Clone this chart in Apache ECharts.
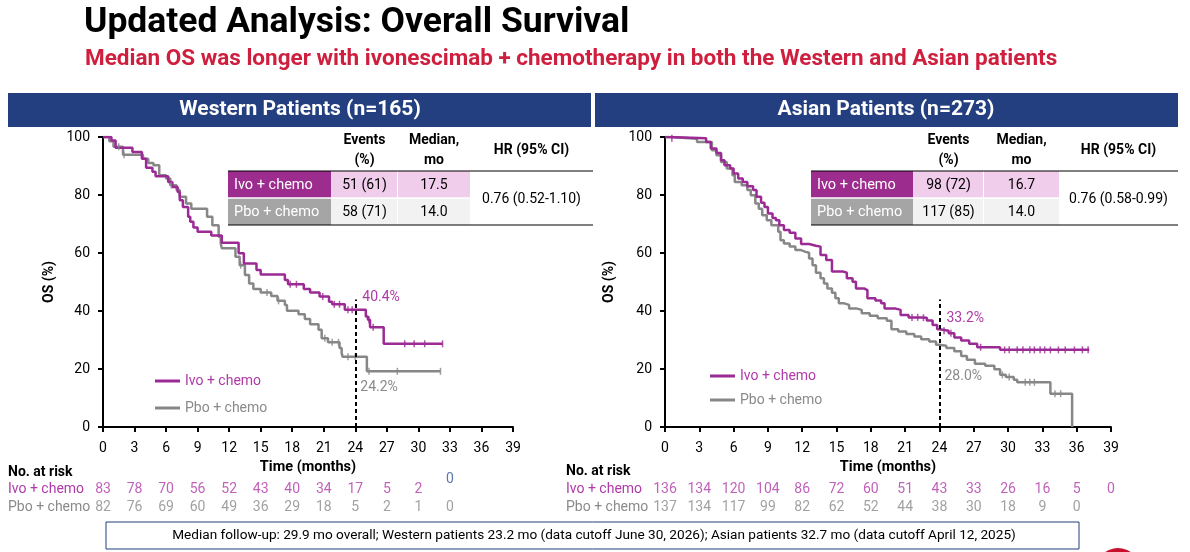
<!DOCTYPE html>
<html><head><meta charset="utf-8">
<script src="https://cdn.jsdelivr.net/npm/echarts@6/dist/echarts.min.js"></script>
<style>html,body{margin:0;padding:0;background:#fff}#c{width:1190px;height:552px}</style>
</head><body><div id="c"></div>
<script>
// ---------- DATA ----------
const riskMonths = [0,3,6,9,12,15,18,21,24,27,30,33,36,39];
const westRiskIvo = [83,78,70,56,52,43,40,34,17,5,2,0];
const westRiskPbo = [82,76,69,60,49,36,29,18,5,2,1,0];
const asianRiskIvo = [136,134,120,104,86,72,60,51,43,33,26,16,5,0];
const asianRiskPbo = [137,134,117,99,82,62,52,44,38,30,18,9,0];

// Kaplan-Meier steps: [month, OS% after the step]
const westIvoKM = [[0,100],[0.8,98.8],[1.2,96.3],[2.8,94.8],[3.7,92.5],[4.1,89.4],[4.7,88],[5.0,86.5],[6.2,84.5],[6.6,82.8],[7.1,81],[7.3,78.2],[7.6,75.9],[8.1,72.5],[8.3,70.8],[8.6,68.8],[9.0,67.3],[10.3,66],[11.3,63.5],[12.9,59.9],[13.4,56.4],[14.6,54.1],[15.0,52.6],[17.3,50.7],[17.6,49.2],[19.1,47.6],[19.7,46.4],[20.6,45],[21.5,43.2],[21.8,42.3],[23.0,40.4],[25.0,38.1],[25.2,37],[25.4,34.4],[26.7,28.7],[32.3,28.7]];
const westPboKM = [[0,100],[0.6,98.5],[1.0,96.6],[1.9,93.9],[3.8,92.5],[4.3,91],[4.8,90.3],[5.35,86.8],[6.0,85.7],[6.4,83.4],[7.0,81.7],[7.3,79.4],[7.9,77.1],[8.4,75.3],[9.9,72.5],[10.4,69.6],[11.0,65.6],[11.2,63.3],[11.3,61.6],[12.6,58.7],[13.0,55.8],[13.5,52.4],[13.9,49.5],[14.3,47.6],[15.0,46.4],[16.0,45.2],[16.6,43.5],[17.3,42.1],[17.5,40.1],[18.6,38.9],[19.2,37.2],[19.7,35.4],[20.5,33.5],[20.8,30.6],[21.4,29.2],[22.5,27.2],[22.7,25.5],[22.8,24.2],[25.1,19.2],[32.1,19.2]];
const asianIvoKM = [[0,100],[0.3,99.6],[3.6,98.3],[4.0,96],[4.5,94.5],[4.9,92],[5.2,90.3],[5.7,89.1],[6.0,87.4],[6.4,85.7],[6.8,84.5],[7.2,83],[7.7,81.7],[8.0,79.4],[8.4,77.3],[8.7,75.9],[9.0,73.6],[9.4,72.1],[9.7,71.3],[10.0,69.6],[10.4,67.9],[10.9,67],[11.4,65],[11.9,63.1],[12.6,62.5],[13.2,62.2],[13.6,59.3],[14.1,57.6],[14.6,53.6],[15.6,53.2],[15.9,51.3],[16.4,50.1],[16.7,47.8],[17.4,47.2],[17.7,44.4],[18.4,43.6],[18.9,42.7],[19.2,40.9],[20.1,40.4],[20.6,38.6],[21.3,37.8],[22.4,37.7],[22.9,36.7],[23.4,35.2],[23.8,33.7],[24.0,33.2],[24.8,32.3],[25.3,30.9],[25.9,29.8],[26.6,28.7],[27.3,27.5],[29.3,26.6],[37.1,26.6]];
const asianPboKM = [[0,100],[0.4,99.4],[2.8,98.3],[4.1,95.4],[4.5,93.7],[4.9,91.4],[5.4,89.1],[5.9,86.8],[6.1,84.5],[6.7,83.4],[7.2,81.7],[7.5,79.9],[7.9,77.1],[8.2,75.3],[8.5,73],[8.9,71.3],[9.3,69.6],[9.9,67.3],[10.1,64.4],[10.4,63.3],[10.9,62.2],[11.4,61],[11.9,60.4],[12.3,60.1],[12.6,58.1],[12.9,55.8],[13.2,53.2],[13.6,51.3],[13.9,49.5],[14.2,47.8],[14.6,46.3],[14.9,44.4],[15.2,42.7],[15.6,42.1],[16.1,40.9],[16.7,40.4],[17.2,39.2],[17.9,38.4],[18.6,37.5],[19.4,36.6],[19.8,33.7],[20.4,32.9],[21.1,32.1],[21.8,31.2],[22.4,30.3],[23.1,29.5],[23.7,28.4],[23.95,28.0],[24.6,27.2],[25.3,26.1],[25.9,24.5],[26.4,23.2],[27.1,21.8],[28.0,21.1],[28.8,19.9],[29.3,18],[29.8,17.2],[30.5,16.3],[30.8,15.4],[33.7,11.5],[35.6,0]];

// censor times (months)
const westIvoCens = [17.8,18.4,20.9,22.0,22.5,23.3,23.7,25.3,25.7,28.7,29.6,30.6,32.3];
const westPboCens = [1.5,2.0,6.5,13.1,15.6,16.7,21.1,21.8,22.4,23.3,24.0,25.3,28.0,32.1];
const asianIvoCens = [0.6,21.6,22.1,22.6,24.4,25.0,27.6,29.7,30.1,30.8,31.3,31.9,32.3,32.8,33.2,33.7,34.4,35.0,35.8,36.5,37.0];
const asianPboCens = [29.5,30.1,31.5,31.9,32.3,34.1,34.6];

const landmark = {month:24, west:{ivo:'40.4%', pbo:'24.2%'}, asian:{ivo:'33.2%', pbo:'28.0%'}};
const tableHeaders = ['Events\n(%)','Median,\nmo','HR (95% CI)'];
const westTable = {ivo:['51 (61)','17.5'], pbo:['58 (71)','14.0'], hr:'0.76 (0.52-1.10)'};
const asianTable = {ivo:['98 (72)','16.7'], pbo:['117 (85)','14.0'], hr:'0.76 (0.58-0.99)'};
const armNames = ['Ivo + chemo','Pbo + chemo'];

// ---------- STYLE ----------
const PURPLE = '#9c2a95', PURPLE_TXT = '#b03aa8', GRAY = '#878787', GRAY_TXT = '#8a8a8a';
const NAVY = '#233f7f';
const FONT = 'Roboto, "Liberation Sans", sans-serif';

function stepVal(km, t){ let v = km[0][1]; for (const p of km){ if (p[0] <= t) v = p[1]; else break; } return v; }
function cens(km, times){ return times.map(t => [t, stepVal(km, t)]); }

const xAxisBase = (gi) => ({
  gridIndex: gi, type:'value', min:0, max:39, interval:3,
  axisLine:{show:true, onZero:false, lineStyle:{color:'#000', width:2}},
  axisTick:{show:true, length:5, lineStyle:{color:'#000', width:2}},
  axisLabel:{color:'#000', fontSize:14, margin:14, fontFamily:FONT},
  splitLine:{show:false},
  name:'Time (months)', nameLocation:'middle', nameGap:30,
  nameTextStyle:{color:'#000', fontSize:14.5, fontWeight:'bold', fontFamily:FONT}
});
const yAxisBase = (gi, gap) => ({
  gridIndex: gi, type:'value', min:0, max:100, interval:20,
  axisLine:{show:true, lineStyle:{color:'#000', width:2}},
  axisTick:{show:true, length:5, lineStyle:{color:'#000', width:2}},
  axisLabel:{color:'#000', fontSize:14, margin:13, fontFamily:FONT},
  splitLine:{show:false},
  name:'OS (%)', nameLocation:'middle', nameGap:gap, nameRotate:90,
  nameTextStyle:{color:'#000', fontSize:14, fontWeight:'bold', fontFamily:FONT}
});
const hiddenX = (gi) => ({gridIndex:gi, type:'value', min:0, max:39, show:false});
const hiddenY = (gi) => ({gridIndex:gi, type:'category', data:['Pbo','Ivo'], show:false});

function kmLine(name, km, color, xi){
  return {name, type:'line', step:'end', data:km, xAxisIndex:xi, yAxisIndex:xi,
    symbol:'none', lineStyle:{color, width:2.5}, itemStyle:{color}, z:3, animation:false};
}
function censSeries(km, times, color, xi){
  return {name:'censor', type:'scatter', data:cens(km, times), xAxisIndex:xi, yAxisIndex:xi,
    symbol:'rect', symbolSize:[1.5,7], itemStyle:{color}, z:4, animation:false, silent:true};
}
function riskSeries(vals, row, color, xi, special){
  return {name:'risk', type:'scatter', xAxisIndex:xi, yAxisIndex:xi, symbolSize:0, silent:true, animation:false,
    data: vals.map((v,i)=>{
      const item = {value:[riskMonths[i], row, v]};
      if (special && special(i, v)) item.label = {color:'#2f5597', offset:[0,-10]};
      return item;
    }),
    label:{show:true, position:'inside', formatter:p=>p.value[2], color, fontSize:14, fontFamily:FONT}
  };
}
function landmarkSeries(xi, ivoTxt, pboTxt, ivoY, pboY){
  return {name:'landmark', type:'line', data:[], xAxisIndex:xi, yAxisIndex:xi, animation:false, silent:true,
    markLine:{symbol:'none', silent:true, label:{show:false},
      lineStyle:{color:'#000', type:[4,3], width:2},
      data:[[{coord:[landmark.month,0]},{coord:[landmark.month,44]}]]},
    markPoint:{symbolSize:0, silent:true, data:[
      {coord:[landmark.month, ivoY], label:{show:true, formatter:ivoTxt, position:'right', distance:7, color:PURPLE_TXT, fontSize:14, fontFamily:FONT}},
      {coord:[landmark.month, pboY], label:{show:true, formatter:pboTxt, position:'right', distance:5, color:GRAY_TXT, fontSize:14, fontFamily:FONT}}
    ]}
  };
}

// ---------- GRAPHIC ----------
const g = [];
function txt(x,y,text,opt){ g.push({type:'text', x, y, silent:true, style:Object.assign({text, fill:'#000', font:'13px '+FONT, textAlign:'left', textVerticalAlign:'middle'}, opt||{})}); }
function rect(x,y,w,h,fill,stroke){ g.push({type:'rect', silent:true, shape:{x,y,width:w,height:h}, style:{fill, stroke:stroke||null, lineWidth:stroke?1:0}}); }
function line(x1,y1,x2,y2,color,w){ g.push({type:'line', silent:true, shape:{x1,y1,x2,y2}, style:{stroke:color, lineWidth:w}}); }

txt(84, 23, 'Updated Analysis: Overall Survival', {font:'bold 35.5px '+FONT});
txt(85, 59, 'Median OS was longer with ivonescimab + chemotherapy in both the Western and Asian patients', {font:'bold 22.5px '+FONT, fill:'#cf1f3f'});

rect(8, 93, 583, 34, NAVY);
rect(595, 93, 583, 34, NAVY);
txt(300, 110, 'Western Patients (n=165)', {font:'bold 21px '+FONT, fill:'#fff', textAlign:'center'});
txt(886, 110, 'Asian Patients (n=273)', {font:'bold 21px '+FONT, fill:'#fff', textAlign:'center'});

function table(cx, t){
  const top=171, rh=27;
  rect(cx[0], top, cx[1]-cx[0], rh, '#9c2d8e');
  rect(cx[1], top, cx[2]-cx[1]-1, rh, '#f0cdeb');
  rect(cx[2], top, cx[3]-cx[2], rh, '#f0cdeb');
  rect(cx[0], top+rh, cx[1]-cx[0], rh, '#a5a5a5');
  rect(cx[1], top+rh, cx[2]-cx[1]-1, rh, '#f2f2f2');
  rect(cx[2], top+rh, cx[3]-cx[2], rh, '#f2f2f2');
  line(cx[0], top+rh, cx[3], top+rh, '#fff', 1.5);
  line(cx[0], top, cx[4], top, '#000', 1.2);
  line(cx[0], top+2*rh, cx[4], top+2*rh, '#000', 1.2);
  const m1=(cx[1]+cx[2])/2, m2=(cx[2]+cx[3])/2, m3=(cx[3]+cx[4])/2;
  txt(m1, 150, tableHeaders[0], {font:'bold 14px '+FONT, textAlign:'center', lineHeight:20});
  txt(m2, 150, tableHeaders[1], {font:'bold 14px '+FONT, textAlign:'center', lineHeight:20});
  txt(m3, 150, tableHeaders[2], {font:'bold 14px '+FONT, textAlign:'center'});
  txt(cx[0]+6, top+rh/2+1, armNames[0], {font:'14.5px '+FONT, fill:'#fff'});
  txt(cx[0]+6, top+rh*1.5+1, armNames[1], {font:'14.5px '+FONT, fill:'#fff'});
  txt(m1, top+rh/2+1, t.ivo[0], {font:'14px '+FONT, textAlign:'center'});
  txt(m2, top+rh/2+1, t.ivo[1], {font:'14px '+FONT, textAlign:'center'});
  txt(m1, top+rh*1.5+1, t.pbo[0], {font:'14px '+FONT, textAlign:'center'});
  txt(m2, top+rh*1.5+1, t.pbo[1], {font:'14px '+FONT, textAlign:'center'});
  txt(m3, top+rh+1, t.hr, {font:'14px '+FONT, textAlign:'center'});
}
table([228,331,398,470,593], westTable);
table([811,913,984,1059,1178], asianTable);

// risk table labels
txt(8, 472, 'No. at risk', {font:'bold 14px '+FONT});
txt(8, 489, armNames[0], {font:'14px '+FONT, fill:PURPLE_TXT});
txt(8, 507, armNames[1], {font:'14px '+FONT, fill:GRAY_TXT});
txt(566, 471, 'No. at risk', {font:'bold 14px '+FONT});
txt(566, 489, armNames[0], {font:'14px '+FONT, fill:PURPLE_TXT});
txt(566, 507, armNames[1], {font:'14px '+FONT, fill:GRAY_TXT});

// footer
rect(106, 522, 973, 27, '#fff', NAVY);
txt(594, 536, 'Median follow-up: 29.9 mo overall; Western patients 23.2 mo (data cutoff June 30, 2026); Asian patients 32.7 mo (data cutoff April 12, 2025)', {font:'13.6px '+FONT, textAlign:'center'});
g.push({type:'circle', silent:true, shape:{cx:1118, cy:570, r:22}, style:{fill:'#c8102e'}});

// ---------- CHART ----------
const chart = echarts.init(document.getElementById('c'), null, {renderer:'canvas'});
chart.setOption({
  animation:false,
  backgroundColor:'#fff',
  grid:[
    {left:103, top:137, width:410, height:290},
    {left:665, top:137, width:446, height:290},
    {left:103, top:480, width:410, height:36},
    {left:665, top:480, width:446, height:36}
  ],
  xAxis:[xAxisBase(0), xAxisBase(1), hiddenX(2), hiddenX(3)],
  yAxis:[yAxisBase(0,47), yAxisBase(1,49), hiddenY(2), hiddenY(3)],
  legend:[
    {left:150, top:369, orient:'vertical', itemGap:13, icon:'rect', itemWidth:25, itemHeight:3,
     textStyle:{fontSize:14, fontFamily:FONT},
     data:[{name:armNames[0], textStyle:{color:PURPLE_TXT}}, {name:armNames[1], textStyle:{color:GRAY_TXT}}]},
    {left:705, top:364, orient:'vertical', itemGap:10, icon:'rect', itemWidth:25, itemHeight:3,
     textStyle:{fontSize:14, fontFamily:FONT},
     data:[{name:armNames[0], textStyle:{color:PURPLE_TXT}}, {name:armNames[1], textStyle:{color:GRAY_TXT}}]}
  ],
  series:[
    kmLine(armNames[1], westPboKM, GRAY, 0),
    kmLine(armNames[0], westIvoKM, PURPLE, 0),
    censSeries(westPboKM, westPboCens, GRAY, 0),
    censSeries(westIvoKM, westIvoCens, PURPLE, 0),
    kmLine(armNames[1], asianPboKM, GRAY, 1),
    kmLine(armNames[0], asianIvoKM, PURPLE, 1),
    censSeries(asianPboKM, asianPboCens, GRAY, 1),
    censSeries(asianIvoKM, asianIvoCens, PURPLE, 1),
    landmarkSeries(0, landmark.west.ivo, landmark.west.pbo, 44.5, 13.5),
    landmarkSeries(1, landmark.asian.ivo, landmark.asian.pbo, 37.5, 17.5),
    riskSeries(westRiskIvo, 'Ivo', PURPLE_TXT, 2, (i,v)=> i===westRiskIvo.length-1),
    riskSeries(westRiskPbo, 'Pbo', GRAY_TXT, 2),
    riskSeries(asianRiskIvo, 'Ivo', PURPLE_TXT, 3),
    riskSeries(asianRiskPbo, 'Pbo', GRAY_TXT, 3)
  ],
  graphic: g
});
</script></body></html>
